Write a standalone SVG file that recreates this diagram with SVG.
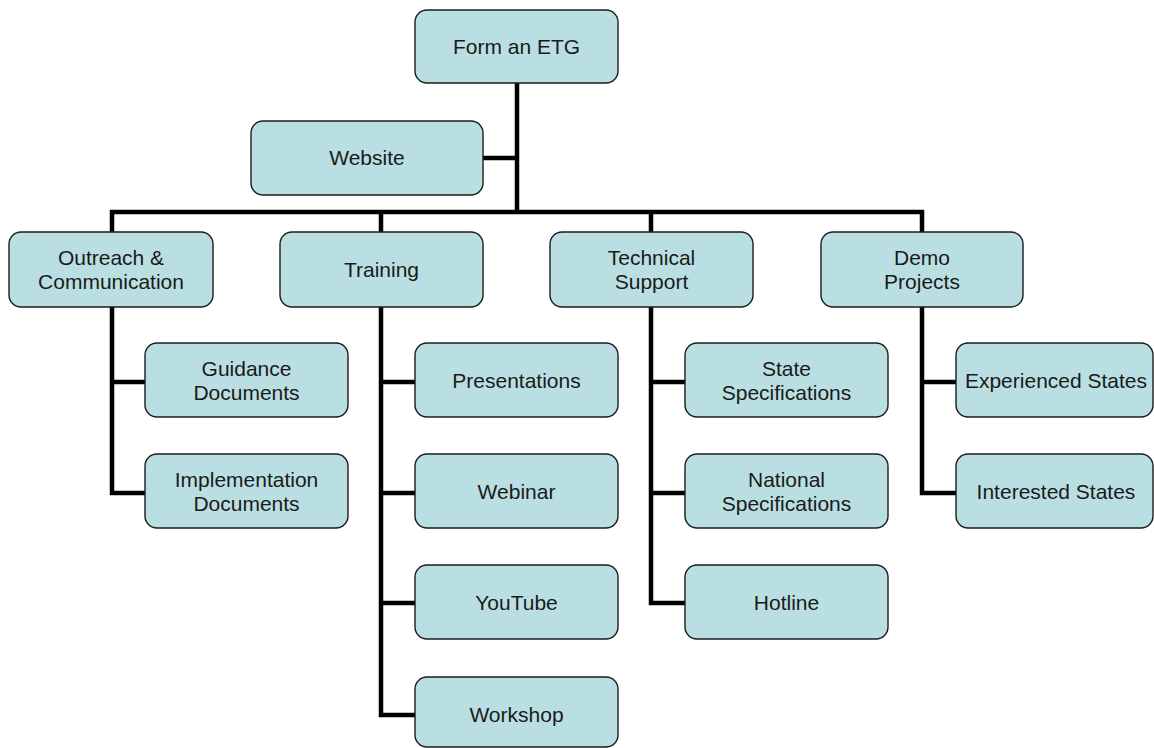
<svg xmlns="http://www.w3.org/2000/svg" width="1154" height="748" viewBox="0 0 1154 748">
  <style>
    .box { fill: #BADFE2; stroke: #1c1c1c; stroke-width: 1.4; }
    .lbl { font-family: "Liberation Sans", Arial, sans-serif; font-size: 21px; fill: #1a1a1a; text-anchor: middle; }
    .wire { stroke: #000; stroke-width: 4.5; fill: none; stroke-linecap: butt; stroke-linejoin: miter; }
  </style>
  <rect width="1154" height="748" fill="#fff"/>

  <!-- connectors -->
  <g id="connectors">
    <path class="wire" d="M517 83 V214"/>
    <path class="wire" d="M483 158 H519"/>
    <path class="wire" d="M110 212 H924"/>
    <path class="wire" d="M112 210 V232 M381 210 V232 M651 210 V232 M922 210 V232"/>
    <path class="wire" d="M112 307 V493 H145 M110 382 H145"/>
    <path class="wire" d="M381 307 V715 H415 M379 382 H415 M379 493 H415 M379 603 H415"/>
    <path class="wire" d="M651 307 V603 H685 M649 382 H685 M649 493 H685"/>
    <path class="wire" d="M922 307 V493 H956 M920 382 H956"/>
  </g>

  <g id="form-etg">
    <rect class="box" x="415" y="10" width="203" height="73" rx="12"/>
    <text class="lbl" x="516.5" y="54">Form an ETG</text>
  </g>
  <g id="website">
    <rect class="box" x="251" y="121" width="232" height="74" rx="12"/>
    <text class="lbl" x="367" y="165">Website</text>
  </g>

  <g id="outreach">
    <rect class="box" x="9" y="232" width="204" height="75" rx="12"/>
    <text class="lbl" x="111" y="265">Outreach &amp;</text>
    <text class="lbl" x="111" y="289">Communication</text>
  </g>
  <g id="training">
    <rect class="box" x="280" y="232" width="203" height="75" rx="12"/>
    <text class="lbl" x="381.5" y="277">Training</text>
  </g>
  <g id="technical-support">
    <rect class="box" x="550" y="232" width="203" height="75" rx="12"/>
    <text class="lbl" x="651.5" y="265">Technical</text>
    <text class="lbl" x="651.5" y="289">Support</text>
  </g>
  <g id="demo-projects">
    <rect class="box" x="821" y="232" width="202" height="75" rx="12"/>
    <text class="lbl" x="922" y="265">Demo</text>
    <text class="lbl" x="922" y="289">Projects</text>
  </g>

  <g id="guidance">
    <rect class="box" x="145" y="343" width="203" height="74" rx="12"/>
    <text class="lbl" x="246.5" y="376">Guidance</text>
    <text class="lbl" x="246.5" y="400">Documents</text>
  </g>
  <g id="implementation">
    <rect class="box" x="145" y="454" width="203" height="74" rx="12"/>
    <text class="lbl" x="246.5" y="487">Implementation</text>
    <text class="lbl" x="246.5" y="511">Documents</text>
  </g>

  <g id="presentations">
    <rect class="box" x="415" y="343" width="203" height="74" rx="12"/>
    <text class="lbl" x="516.5" y="388">Presentations</text>
  </g>
  <g id="webinar">
    <rect class="box" x="415" y="454" width="203" height="74" rx="12"/>
    <text class="lbl" x="516.5" y="499">Webinar</text>
  </g>
  <g id="youtube">
    <rect class="box" x="415" y="565" width="203" height="74" rx="12"/>
    <text class="lbl" x="516.5" y="610">YouTube</text>
  </g>
  <g id="workshop">
    <rect class="box" x="415" y="677" width="203" height="70" rx="12"/>
    <text class="lbl" x="516.5" y="722">Workshop</text>
  </g>

  <g id="state-specs">
    <rect class="box" x="685" y="343" width="203" height="74" rx="12"/>
    <text class="lbl" x="786.5" y="376">State</text>
    <text class="lbl" x="786.5" y="400">Specifications</text>
  </g>
  <g id="national-specs">
    <rect class="box" x="685" y="454" width="203" height="74" rx="12"/>
    <text class="lbl" x="786.5" y="487">National</text>
    <text class="lbl" x="786.5" y="511">Specifications</text>
  </g>
  <g id="hotline">
    <rect class="box" x="685" y="565" width="203" height="74" rx="12"/>
    <text class="lbl" x="786.5" y="610">Hotline</text>
  </g>

  <g id="experienced-states">
    <rect class="box" x="956" y="343" width="197" height="74" rx="12"/>
    <text class="lbl" x="1056" y="388">Experienced States</text>
  </g>
  <g id="interested-states">
    <rect class="box" x="956" y="454" width="197" height="74" rx="12"/>
    <text class="lbl" x="1056" y="499">Interested States</text>
  </g>
</svg>
